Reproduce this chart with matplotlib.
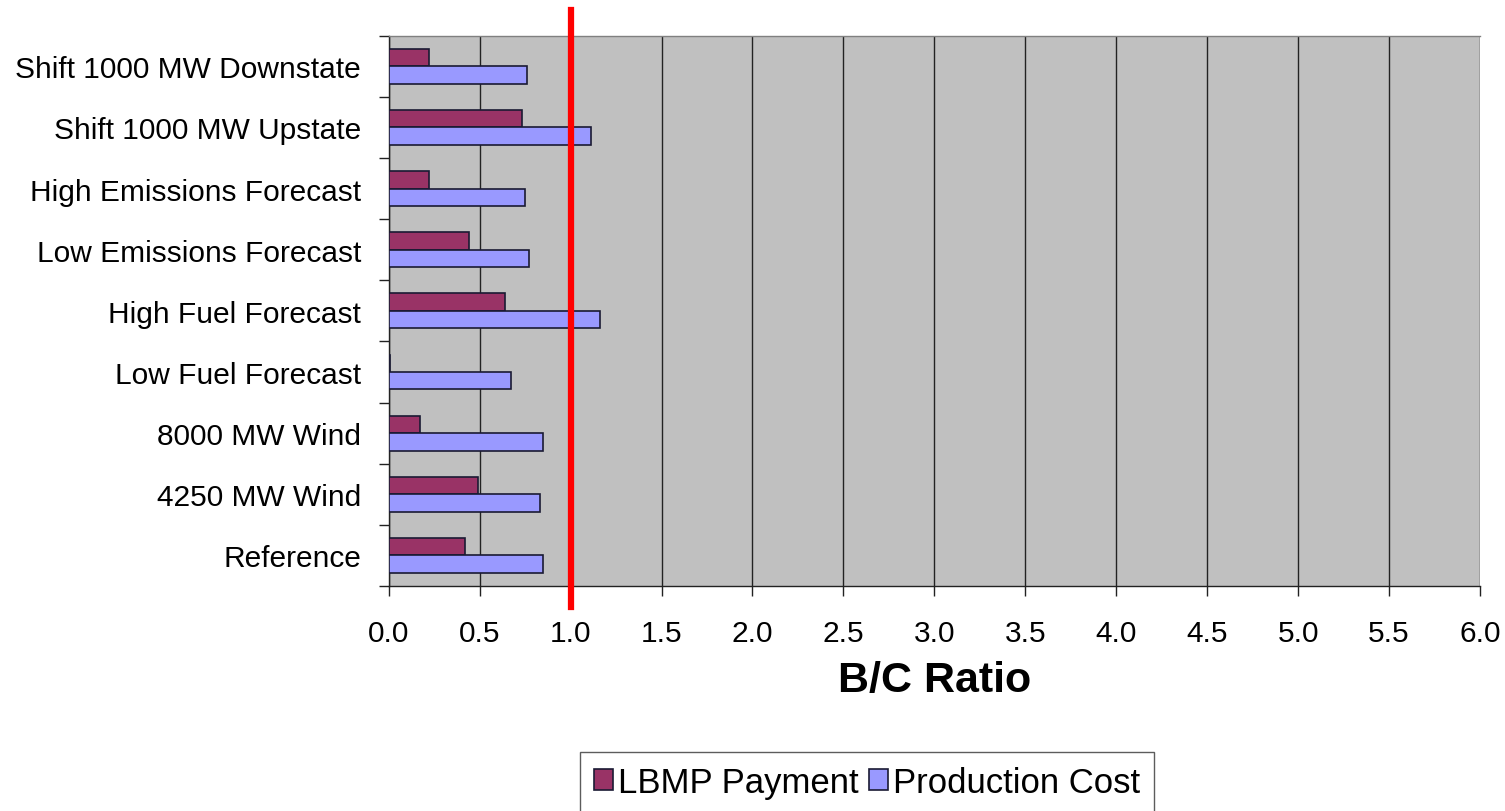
import matplotlib.pyplot as plt
import numpy as np

plt.rcParams['font.family'] = ['Liberation Sans', 'DejaVu Sans']

# scenarios listed bottom to top
scenarios = [
    "Reference",
    "4250 MW Wind",
    "8000 MW Wind",
    "Low Fuel Forecast",
    "High Fuel Forecast",
    "Low Emissions Forecast",
    "High Emissions Forecast",
    "Shift 1000 MW Upstate",
    "Shift 1000 MW Downstate",
]
lbmp_payment = [0.42, 0.49, 0.17, 0.005, 0.64, 0.44, 0.22, 0.73, 0.22]
production_cost = [0.85, 0.83, 0.85, 0.67, 1.16, 0.77, 0.75, 1.11, 0.76]

xticks = np.arange(0, 6.01, 0.5)

fig = plt.figure(figsize=(15.05, 8.12), dpi=100)
ax = fig.add_axes([0.2583, 0.2771, 0.7251, 0.6777])
ax.set_facecolor("#C0C0C0")

y = np.arange(len(scenarios))
h = 0.286
ax.barh(y + h / 2, lbmp_payment, height=h, color="#993366",
        edgecolor="#1a1a33", linewidth=1.2, label="LBMP Payment", zorder=3)
ax.barh(y - h / 2, production_cost, height=h, color="#9999FF",
        edgecolor="#1a1a33", linewidth=1.2, label="Production Cost", zorder=3)

ax.set_xlim(0, 6)
ax.set_ylim(-0.5, len(scenarios) - 0.5)

# vertical gridlines every 0.5
ax.set_xticks(xticks)
ax.set_xticklabels([f"{v:.1f}" for v in xticks], fontsize=21.5)
ax.xaxis.grid(True, color="#222222", linewidth=1.0, zorder=1)
ax.set_axisbelow(True)
ax.tick_params(axis="x", direction="out", length=7, width=1.0,
               color="#222222", pad=17)

# category boundaries get the tick marks, names sit at the centres
ax.set_yticks(np.arange(-0.5, len(scenarios), 1.0))
ax.set_yticklabels([])
ax.set_yticks(y, minor=True)
ax.set_yticklabels(scenarios, minor=True, fontsize=21.5)
ax.tick_params(axis="y", which="major", direction="out", length=7,
               width=1.0, color="#222222")
ax.tick_params(axis="y", which="minor", length=0, pad=20)

for side in ("left", "bottom"):
    ax.spines[side].set_color("#222222")
    ax.spines[side].set_linewidth(1.0)
ax.spines["top"].set_color("#808080")
ax.spines["top"].set_linewidth(1.0)
ax.spines["right"].set_visible(False)

# break-even line at B/C = 1
ax.axvline(1.0, ymin=-0.038, ymax=1.047, color="#FF0000", linewidth=4.5,
           clip_on=False, zorder=5)

ax.set_xlabel("B/C Ratio", fontsize=31, fontweight="bold", labelpad=9)

leg = fig.legend(loc="upper center", bbox_to_anchor=(0.5761, 1 - 752.7 / 812),
                 ncol=2, fontsize=25, frameon=True, fancybox=False,
                 edgecolor="#333333", handlelength=0.55, handleheight=0.55,
                 handletextpad=0.15, columnspacing=0.3, borderpad=0.4,
                 borderaxespad=0)
leg.get_frame().set_linewidth(1.0)

fig.savefig("out.png", dpi=100, facecolor="white")
